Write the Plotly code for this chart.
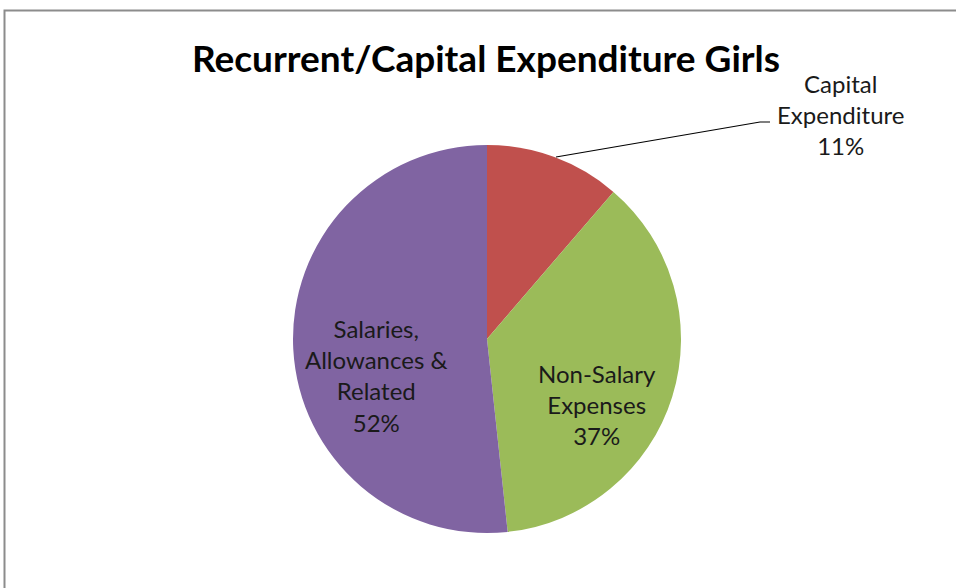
import plotly.graph_objects as go

labels = ["Capital Expenditure", "Non-Salary Expenses", "Salaries, Allowances & Related"]
label_lines = ["Capital<br>Expenditure", "Non-Salary<br>Expenses", "Salaries,<br>Allowances &<br>Related"]
values = [11.3, 37.0, 51.7]
colors = ["#C0504D", "#9BBB59", "#8064A2"]

W, H = 956, 588
FONT = "Lato, Open Sans, sans-serif"

def px(x):
    return x / W

def py(y):
    return 1 - y / H

fig = go.Figure(go.Pie(
    labels=labels,
    values=values,
    sort=False,
    direction="clockwise",
    rotation=0,
    marker=dict(colors=colors, line=dict(width=0)),
    textinfo="none",
    hoverinfo="label+percent",
    showlegend=False,
    domain=dict(x=[px(293), px(681)], y=[py(533), py(145)]),
))

total = sum(values)
pcts = [round(v / total * 100) for v in values]
label_pos = [(840, 115), (597, 404), (376, 375)]
for txt, p, (x, y) in zip(label_lines, pcts, label_pos):
    fig.add_annotation(
        x=px(x), y=py(y), xref="paper", yref="paper",
        text=f"{txt}<br>{p}%", showarrow=False,
        font=dict(family=FONT, size=24, color="#1a1a1a"),
        align="center", xanchor="center", yanchor="middle",
    )

# leader line for the outside label
fig.add_shape(type="path", xref="paper", yref="paper",
              path=f"M {px(556)},{py(157)} L {px(760)},{py(122)} L {px(770)},{py(122)}",
              line=dict(color="#000000", width=1.2))

# chart border
fig.add_shape(type="rect", xref="paper", yref="paper",
              x0=px(4.5), y0=py(620), x1=px(990), y1=py(10.5),
              line=dict(color="#8c8c8c", width=2), fillcolor="rgba(0,0,0,0)")

fig.update_layout(
    width=W, height=H,
    margin=dict(l=0, r=0, t=0, b=0),
    paper_bgcolor="white",
    title=dict(text="<b>Recurrent/Capital Expenditure Girls</b>",
               x=px(486), y=py(59), xanchor="center", yanchor="middle",
               font=dict(family=FONT, size=37, color="#000000")),
)

fig.write_html("out.html",
               config={"displayModeBar": False},
               post_script="document.body.style.margin='0';document.body.style.overflow='hidden';")
